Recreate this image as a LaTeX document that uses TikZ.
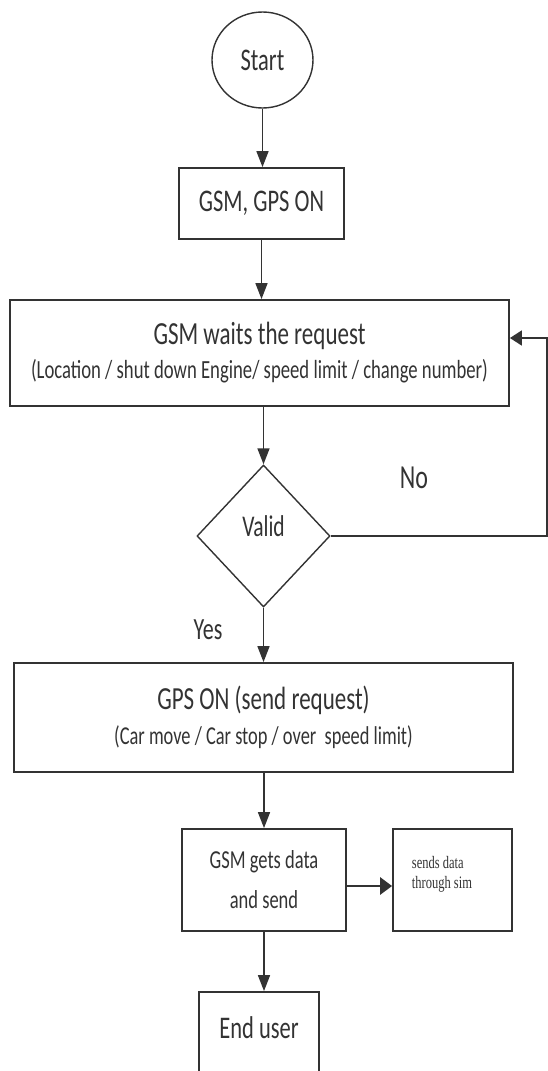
\documentclass[tikz,border=0pt]{standalone}
\usepackage{fontspec}
\setmainfont{Carlito}
\newfontfamily\serifsim{Liberation Serif}
\usetikzlibrary{shapes.geometric,arrows.meta}
\newcommand\vst[1]{\scalebox{1}[1.4]{#1}}
\definecolor{ink}{HTML}{333333}
\begin{document}
\begin{tikzpicture}[x=1pt,y=-1pt,
  box/.style={draw=ink, line width=1.8pt, rectangle, inner sep=0pt, text=ink, align=center},
  lbl/.style={text=ink, inner sep=0pt},
  arr/.style={draw=ink, line width=1.6pt, -{Triangle[length=16pt,width=12pt]}},
  sarr/.style={draw=ink, line width=1.8pt, -{Triangle[length=12pt,width=15pt]}},
  big/.style={font=\fontsize{22.5}{27}\selectfont}]
\useasboundingbox (0,0) rectangle (548,1071);
\clip (0,0) rectangle (548,1071);

\node[draw=ink, ellipse, line width=1.4pt, minimum width=101pt, minimum height=96pt, inner sep=0pt, text=ink, big] (start) at (262.5,60) {\vst{Start}};

\node[box, minimum width=165pt, minimum height=71pt, big] (b1) at (261.5,203.5) {\vst{GSM, GPS ON}};

\node[box, minimum width=499pt, minimum height=106pt, font=\fontsize{18.7}{34}\selectfont] (b2) at (259.5,353)
  {\vst{\fontsize{23}{34}\selectfont GSM waits the request}\\ \vst{(Location / shut down Engine/ speed limit / change number)}};

\node[draw=ink, diamond, line width=1.4pt, minimum width=133pt, minimum height=142pt, inner sep=0pt, text=ink,
  text height=20pt, text depth=20pt, font=\fontsize{21.5}{26}\selectfont] (valid) at (263.5,536) {\vst{Valid}};

\node[lbl, font=\fontsize{24}{28}\selectfont] (no) at (414,478) {\vst{No}};
\node[lbl, font=\fontsize{22}{26}\selectfont] (yes) at (208,630) {\vst{Yes}};

\node[box, minimum width=499pt, minimum height=109pt, font=\fontsize{18.4}{35}\selectfont] (b3) at (263.5,717.5)
  {\vst{\fontsize{23}{35}\selectfont GPS ON (send request)}\\ \vst{(Car move / Car stop / over\ \ speed limit)}};

\node[box, minimum width=164pt, minimum height=102pt, font=\fontsize{18.5}{40}\selectfont] (b4) at (264,880)
  {\vst{GSM gets data}\\ \vst{and send}};

\node[box, minimum width=119pt, minimum height=102pt] (b5) at (452.5,880) {};
\node[lbl, align=left, font=\serifsim\fontsize{12.5}{20}\selectfont] (b5t) at (442,874) {\vst{sends data}\\ \vst{through sim}};

\node[box, minimum width=120pt, minimum height=112pt, text height=20pt, text depth=40pt, big] (b6) at (259,1048) {\vst{End user}};

\coordinate (r1) at (547,536);
\coordinate (r2) at (547,338);

\draw[arr] (start.south) -- (start.south |- b1.north);
\draw[arr] (b1.south) -- (b1.south |- b2.north);
\draw[arr] (b2.south -| valid.north) -- (valid.north);
\draw[arr] (valid.south) -- (valid.south |- b3.north);
\draw[arr] (b3.south -| b4.north) -- (b4.north);
\draw[arr] (b4.south) -- (b4.south |- b6.north);
\draw[draw=ink, line width=2.8pt, -{Triangle[length=12pt,width=17pt]}] ([yshift=-6pt]b4.east) -- ([yshift=-6pt]b5.west);
\draw[sarr] (valid.east) -- (r1) -- (r2) -- (r2 -| b2.east);
\end{tikzpicture}
\end{document}
